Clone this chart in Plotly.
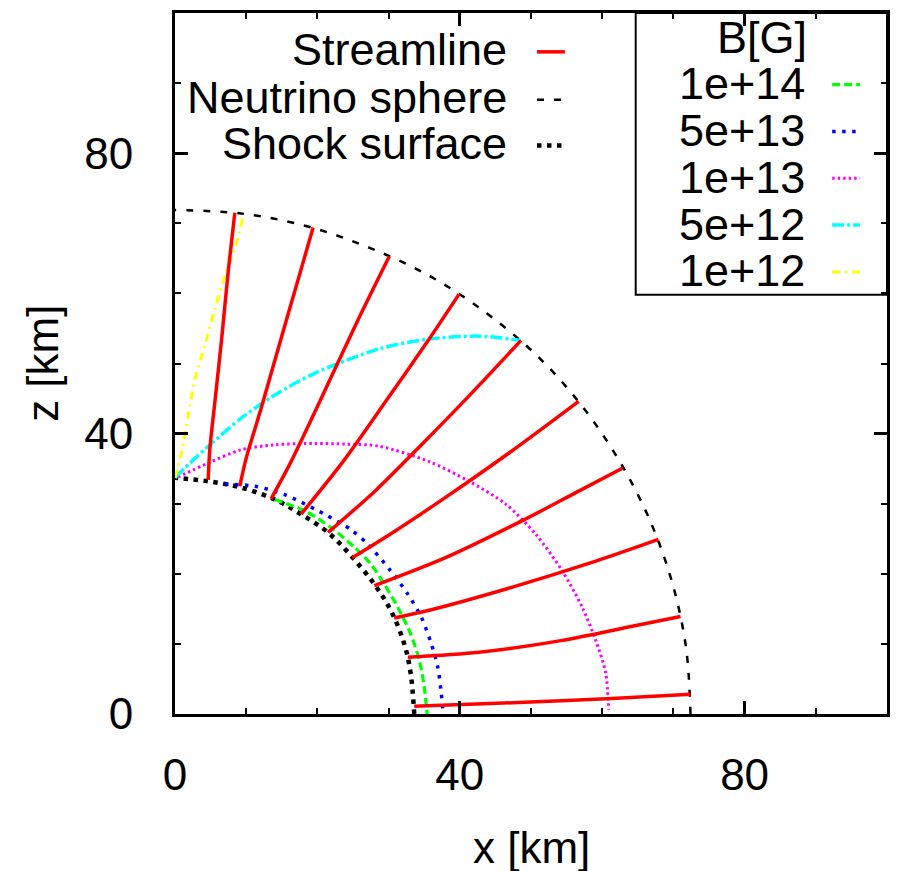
import plotly.graph_objects as go

FONT = "Liberation Sans, Arial, Helvetica, sans-serif"

# ---------------- data (km) ----------------
# neutrino sphere
nu_x = [72.4, 71.78, 69.84, 66.70, 62.44, 57.20, 50.98, 43.83, 36.00, 27.51, 18.64, 9.40, 0.0]
nu_z = [0.0, 9.45, 18.71, 27.63, 36.05, 43.89, 50.98, 57.12, 62.35, 66.43, 69.55, 71.38, 71.9]

# shock surface
shock_x = [33.6, 33.1, 32.2, 30.3, 28.0, 24.7, 21.5, 17.7, 14.0, 9.3, 4.66, 0.0]
shock_z = [0.0, 5.8, 10.0, 14.8, 18.5, 22.6, 25.9, 28.5, 30.6, 32.3, 33.2, 33.7]

# streamlines (shock -> neutrino sphere)
stream_x = [
    [4.66, 4.9, 5.6, 6.6, 7.5, 8.4],
    [9.1, 10.0, 12.1, 14.6, 17.3, 19.4],
    [13.5, 16.3, 20.3, 25.6, 30.1],
    [17.7, 23.6, 29.6, 35.5, 39.9],
    [21.5, 28.3, 34.8, 41.5, 48.6],
    [24.9, 30.0, 38.0, 47.0, 56.7],
    [28.0, 38.0, 49.2, 56.7, 62.9],
    [30.8, 35.7, 47.4, 59.1, 67.9],
    [32.7, 42.7, 54.4, 63.7, 71.0],
    [33.6, 47.4, 61.4, 72.4],
]
stream_z = [
    [33.4, 37.9, 44.5, 54.0, 63.4, 71.5],
    [32.5, 36.5, 43.6, 52.5, 62.0, 69.4],
    [30.7, 36.0, 44.5, 56.0, 65.3],
    [28.5, 36.0, 44.6, 53.2, 59.9],
    [25.9, 32.0, 38.6, 45.6, 53.3],
    [22.3, 25.5, 30.9, 37.3, 44.6],
    [18.3, 22.3, 27.8, 31.8, 35.1],
    [13.7, 14.8, 18.1, 21.8, 24.9],
    [8.1, 8.8, 10.5, 12.4, 13.9],
    [1.1, 1.6, 2.2, 2.8],
]

# magnetic field contours
b_labels = ["1e+14", "5e+13", "1e+13", "5e+12", "1e+12"]
b_x = [
    [14.0, 18.2, 21.9, 25.2, 27.5, 29.4, 31.3, 33.1, 34.3, 35.0, 35.4],
    [7.0, 11.2, 15.4, 21.0, 24.7, 27.1, 30.3, 32.7, 34.6, 36.0, 36.9, 37.4, 37.6],
    [0.4, 4.7, 9.3, 14.0, 19.6, 24.0, 28.7, 35.7, 41.3, 46.5, 50.7, 54.4, 57.2, 59.1, 60.5, 60.9],
    [0.0, 2.3, 4.7, 9.3, 14.0, 19.6, 28.7, 35.7, 42.7, 48.6],
    [0.0, 0.93, 1.86, 2.8, 4.2, 5.6, 7.0, 8.17, 8.87, 9.57],
]
b_z = [
    [30.6, 29.0, 26.6, 23.8, 21.4, 18.5, 15.2, 11.4, 7.7, 3.9, 0.0],
    [32.8, 32.5, 31.3, 28.5, 26.3, 24.2, 20.4, 17.1, 13.8, 10.0, 6.7, 2.9, 0.8],
    [33.8, 35.8, 37.7, 38.4, 38.6, 38.5, 38.2, 36.0, 33.2, 29.9, 25.6, 20.4, 15.2, 10.5, 5.8, 0.6],
    [33.7, 36.0, 38.2, 42.2, 45.5, 48.6, 52.1, 53.5, 53.9, 53.3],
    [33.7, 37.4, 42.6, 47.8, 52.6, 57.8, 62.5, 65.8, 68.2, 71.0],
]

x_ticks = [0, 40, 80]
z_ticks = [0, 40, 80]
legend1_labels = ["Streamline", "Neutrino sphere", "Shock surface"]
legend2_title = "B[G]"

# ---------------- styles ----------------
stream_style = dict(color="#FF0000", width=3.5)
nu_style = dict(color="black", width=2.5, dash="7px,10px")
shock_style = dict(color="black", width=4.5, dash="4.5px,5.5px")
b_styles = [
    dict(color="#00FF00", width=3.2, dash="8px,4px"),
    dict(color="#0000FF", width=3.5, dash="3.5px,6.5px"),
    dict(color="#FF00FF", width=3, dash="2.5px,3px"),
    dict(color="#00FFFF", width=3.5, dash="12px,3px,3px,3px"),
    dict(color="#FFFF00", width=3, dash="8px,5px,2px,5px"),
]

L, R, T, B = 175, 889, 10, 714
W, H = 900, 871
LEG_FONT = 45


def px(xp):
    return (xp - L) / (R - L)


def py(yp):
    return (B - yp) / (B - T)


fig = go.Figure()

fig.add_trace(go.Scatter(x=nu_x, y=nu_z, mode="lines", line=dict(shape="spline", **nu_style),
                         name="Neutrino sphere", showlegend=False))
fig.add_trace(go.Scatter(x=shock_x, y=shock_z, mode="lines", line=dict(shape="spline", **shock_style),
                         name="Shock surface", showlegend=False))
for lab, xs, zs, st in zip(b_labels, b_x, b_z, b_styles):
    fig.add_trace(go.Scatter(x=xs, y=zs, mode="lines", line=dict(shape="spline", smoothing=0.8, **st),
                             name=lab, showlegend=False))
for xs, zs in zip(stream_x, stream_z):
    fig.add_trace(go.Scatter(x=xs, y=zs, mode="lines",
                             line=dict(shape="spline", smoothing=0.8, **stream_style),
                             name="Streamline", showlegend=False))

annotations = []
shapes = []

# left legend (no box)
leg1_y = [49, 97, 143]
leg1_styles = [stream_style, nu_style, shock_style]
for lab, yy, st in zip(legend1_labels, leg1_y, leg1_styles):
    annotations.append(dict(text=lab, x=px(510), y=py(yy - 2), xref="paper", yref="paper",
                            xanchor="right", yanchor="middle", showarrow=False,
                            font=dict(family=FONT, size=LEG_FONT, color="black")))
    shapes.append(dict(type="line", xref="paper", yref="paper", x0=px(538), x1=px(566),
                       y0=py(yy), y1=py(yy), line=st))

# right legend (boxed)
shapes.append(dict(type="rect", xref="paper", yref="paper", x0=px(637), x1=px(889),
                   y0=py(293), y1=py(10), line=dict(color="black", width=2), fillcolor="white",
                   layer="below"))
annotations.append(dict(text=legend2_title, x=px(764), y=py(35), xref="paper", yref="paper",
                        xanchor="center", yanchor="middle", showarrow=False,
                        font=dict(family=FONT, size=LEG_FONT, color="black")))
leg2_y = [82, 129, 176, 223, 270]
for lab, yy, st in zip(b_labels, leg2_y, b_styles):
    annotations.append(dict(text=lab, x=px(809), y=py(yy - 1), xref="paper", yref="paper",
                            xanchor="right", yanchor="middle", showarrow=False,
                            font=dict(family=FONT, size=LEG_FONT, color="black")))
    shapes.append(dict(type="line", xref="paper", yref="paper", x0=px(834), x1=px(862),
                       y0=py(yy), y1=py(yy), line=st))

# axis titles
annotations.append(dict(text="x [km]", x=0.5, y=py(848), xref="paper", yref="paper",
                        xanchor="center", yanchor="middle", showarrow=False,
                        font=dict(family=FONT, size=44, color="black")))
annotations.append(dict(text="z [km]", x=px(42), y=0.5, xref="paper", yref="paper",
                        xanchor="center", yanchor="middle", showarrow=False, textangle=-90,
                        font=dict(family=FONT, size=44, color="black")))

axis_common = dict(
    range=[0, 100], tickmode="array", ticks="inside", ticklen=13, tickwidth=2.5,
    tickcolor="black", showline=True, linewidth=3, linecolor="black", mirror="ticks",
    showgrid=False, zeroline=False,
    tickfont=dict(family=FONT, size=44, color="black"),
    minor=dict(tickvals=[10, 20, 30, 50, 60, 70, 90], ticks="inside", ticklen=6,
               tickwidth=2, tickcolor="black", showgrid=False),
)

fig.update_layout(
    width=W, height=H,
    margin=dict(l=L, r=W - R, t=T, b=H - B),
    plot_bgcolor="white", paper_bgcolor="white",
    xaxis=dict(tickvals=x_ticks, ticktext=[str(v) for v in x_ticks], ticklabelstandoff=20,
               **axis_common),
    yaxis=dict(tickvals=z_ticks, ticktext=[str(v) for v in z_ticks], ticklabelstandoff=30,
               **axis_common),
    annotations=annotations,
    shapes=shapes,
    showlegend=False,
)

fig.write_html("out.html")
